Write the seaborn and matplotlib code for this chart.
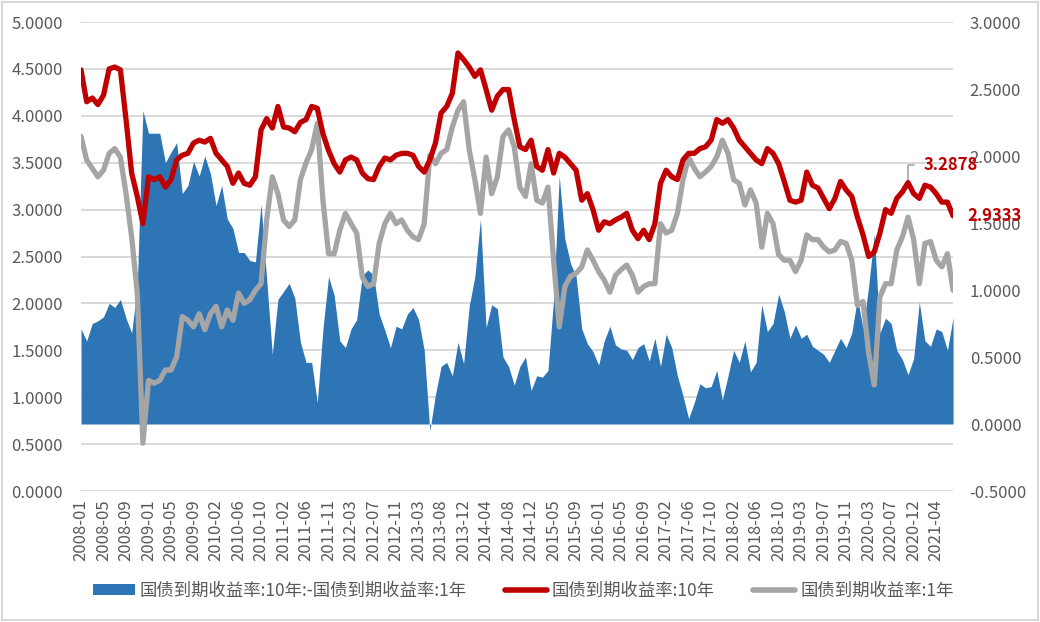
"""
国债收益率：10年、1年及期限利差（2008-01 ~ 2021-07）
"""

# === 1. IMPORT LIBRARIES ===
import numpy as np
import pandas as pd
import matplotlib
matplotlib.use("Agg")
import matplotlib.pyplot as plt
import seaborn as sns
from matplotlib.patches import Patch, Rectangle
from matplotlib.lines import Line2D
from matplotlib.ticker import FuncFormatter

# === 2. DATA (~21 trading days apart) ===
yield_10y = [
    4.49, 4.15, 4.19, 4.12, 4.22, 4.50, 4.52, 4.49, 3.96, 3.39,
    3.14, 2.85, 3.35, 3.32, 3.35, 3.24, 3.32, 3.53, 3.58, 3.60,
    3.71, 3.74, 3.72, 3.76, 3.60, 3.53, 3.46, 3.28, 3.39, 3.28,
    3.26, 3.35, 3.85, 3.97, 3.87, 4.10, 3.88, 3.87, 3.83, 3.93,
    3.96, 4.10, 4.08, 3.81, 3.63, 3.49, 3.40, 3.53, 3.56, 3.53,
    3.39, 3.33, 3.32, 3.46, 3.55, 3.53, 3.58, 3.60, 3.60, 3.58,
    3.46, 3.40, 3.53, 3.71, 4.03, 4.10, 4.24, 4.67, 4.60, 4.52,
    4.42, 4.49, 4.28, 4.06, 4.21, 4.28, 4.28, 3.96, 3.67, 3.64,
    3.74, 3.46, 3.42, 3.64, 3.39, 3.60, 3.56, 3.49, 3.42, 3.10,
    3.17, 3.00, 2.78, 2.87, 2.85, 2.89, 2.92, 2.96, 2.78, 2.69,
    2.78, 2.68, 2.85, 3.28, 3.42, 3.35, 3.32, 3.53, 3.60, 3.60,
    3.65, 3.67, 3.74, 3.96, 3.92, 3.96, 3.87, 3.74, 3.67, 3.60,
    3.53, 3.49, 3.65, 3.60, 3.49, 3.30, 3.10, 3.08, 3.10, 3.40,
    3.26, 3.23, 3.12, 3.01, 3.12, 3.30, 3.21, 3.14, 2.92, 2.73,
    2.50, 2.55, 2.75, 3.00, 2.96, 3.12, 3.19, 3.2878, 3.17, 3.12,
    3.26, 3.24, 3.17, 3.08, 3.08, 2.9333,
]

yield_1y = [
    3.78, 3.53, 3.44, 3.35, 3.42, 3.60, 3.65, 3.56, 3.17, 2.71,
    2.11, 0.51, 1.18, 1.15, 1.18, 1.29, 1.29, 1.43, 1.86, 1.82,
    1.75, 1.89, 1.72, 1.89, 1.97, 1.75, 1.93, 1.82, 2.11, 2.00,
    2.04, 2.14, 2.21, 2.89, 3.35, 3.17, 2.89, 2.82, 2.89, 3.32,
    3.50, 3.64, 3.92, 3.10, 2.53, 2.53, 2.78, 2.96, 2.85, 2.75,
    2.28, 2.18, 2.21, 2.64, 2.85, 2.96, 2.85, 2.89, 2.78, 2.71,
    2.68, 2.85, 3.58, 3.49, 3.60, 3.64, 3.88, 4.06, 4.15, 3.64,
    3.32, 2.96, 3.56, 3.17, 3.35, 3.78, 3.85, 3.67, 3.24, 3.14,
    3.49, 3.10, 3.07, 3.24, 2.46, 1.75, 2.18, 2.29, 2.32, 2.39,
    2.57, 2.46, 2.34, 2.25, 2.12, 2.30, 2.36, 2.41, 2.30, 2.12,
    2.18, 2.21, 2.21, 2.85, 2.75, 2.78, 2.96, 3.32, 3.56, 3.44,
    3.35, 3.40, 3.46, 3.56, 3.74, 3.60, 3.32, 3.28, 3.05, 3.21,
    3.07, 2.60, 2.96, 2.85, 2.52, 2.46, 2.46, 2.34, 2.46, 2.73,
    2.68, 2.68, 2.60, 2.55, 2.57, 2.66, 2.64, 2.46, 1.98, 2.02,
    1.47, 1.13, 2.07, 2.21, 2.21, 2.57, 2.71, 2.92, 2.68, 2.21,
    2.64, 2.66, 2.46, 2.39, 2.53, 2.14,
]

tick_labels = [
    "2008-01", "2008-05", "2008-09", "2009-01", "2009-05", "2009-09",
    "2010-02", "2010-06", "2010-10", "2011-02", "2011-06", "2011-11",
    "2012-03", "2012-07", "2012-11", "2013-03", "2013-08", "2013-12",
    "2014-04", "2014-08", "2014-12", "2015-05", "2015-09", "2016-01",
    "2016-05", "2016-09", "2017-02", "2017-06", "2017-10", "2018-02",
    "2018-06", "2018-10", "2019-03", "2019-07", "2019-11", "2020-03",
    "2020-07", "2020-12", "2021-04",
]
points_per_tick = 4

name_10y = "国债到期收益率:10年"
name_1y = "国债到期收益率:1年"
name_spread = "国债到期收益率:10年:-国债到期收益率:1年"

df = pd.DataFrame({"y10": yield_10y, "y1": yield_1y})
df["pos"] = np.arange(len(df))
df["spread"] = df["y10"] - df["y1"]

# === 3. STYLE ===
sns.set_theme(style="white")
plt.rcParams["font.family"] = ["Noto Sans CJK SC", "DejaVu Sans"]

BLUE = "#2e75b6"
RED = "#c00000"
GRAY = "#a5a5a5"
GRID = "#d9d9d9"
TXT = "#595959"

# === 4. PLOT ===
fig = plt.figure(figsize=(10.4, 6.22), dpi=100)
ax = fig.add_axes([0.0779, 0.2106, 0.8385, 0.754])
ax2 = ax.twinx()

# spread on the right axis (drawn underneath)
ax2.fill_between(df["pos"], 0, df["spread"], color=BLUE, lw=0, zorder=2)
ax2.set_ylim(-0.5, 3.0)
ax2.set_yticks(np.arange(-0.5, 3.01, 0.5))

# yields on the left axis (drawn on top)
sns.lineplot(data=df, x="pos", y="y10", ax=ax, color=RED, lw=3.8, zorder=4)
sns.lineplot(data=df, x="pos", y="y1", ax=ax, color=GRAY, lw=3.8, zorder=3)
ax.set_ylim(0, 5)
left_ticks = np.arange(0, 5.01, 0.5)
ax.set_yticks(left_ticks)
ax.set_zorder(ax2.get_zorder() + 1)
ax.patch.set_visible(False)

# horizontal grid at the left-axis ticks, kept behind the spread area
lo1, hi1 = ax.get_ylim()
lo2, hi2 = ax2.get_ylim()
for v in left_ticks:
    ax2.axhline(lo2 + (v - lo1) * (hi2 - lo2) / (hi1 - lo1),
                color=GRID, lw=1.4, zorder=0)

ax.set_xlim(0, len(df) - 1)
ax.set_xticks(np.arange(len(tick_labels)) * points_per_tick)
ax.set_xticklabels(tick_labels, rotation=90)
ax.set_xlabel("")
ax.set_ylabel("")

fmt = FuncFormatter(lambda v, _: f"{v:.4f}")
ax.yaxis.set_major_formatter(fmt)
ax2.yaxis.set_major_formatter(fmt)

ax.tick_params(axis="y", length=0, pad=13, labelsize=12, labelcolor=TXT)
ax.tick_params(axis="x", length=0, pad=6, labelsize=12, labelcolor=TXT)
ax2.tick_params(axis="y", length=0, pad=12, labelsize=12, labelcolor=TXT)

for a in (ax, ax2):
    for s in a.spines.values():
        s.set_visible(False)

# data labels: recent high and last value of the 10y yield
i_peak = df["y10"].iloc[-20:].idxmax()
ax.annotate(f"{df['y10'][i_peak]:.4f}", xy=(i_peak, df["y10"][i_peak]),
            xytext=(11, 13), textcoords="offset points", ha="left", va="center",
            color=RED, fontsize=12, fontweight="bold",
            arrowprops=dict(arrowstyle="-", color=GRAY, lw=1.2,
                            connectionstyle="angle,angleA=0,angleB=90,rad=0",
                            shrinkA=4, shrinkB=0))
i_last = len(df) - 1
ax.annotate(f"{df['y10'][i_last]:.4f}", xy=(i_last, df["y10"][i_last]),
            xytext=(10, 0), textcoords="offset points", ha="left", va="center",
            color=RED, fontsize=12, fontweight="bold")

# legend
handles = [
    Patch(facecolor=BLUE, edgecolor="none"),
    Line2D([], [], color=RED, lw=4),
    Line2D([], [], color=GRAY, lw=4),
]
leg = fig.legend(handles, [name_spread, name_10y, name_1y], loc="center",
                 bbox_to_anchor=(0.503, 0.05), ncol=3, frameon=False,
                 fontsize=12.5, handlelength=2.4, handleheight=0.6,
                 handletextpad=0.3, columnspacing=2.2)
for t in leg.get_texts():
    t.set_color(TXT)

# chart border
fig.patches.append(Rectangle((0.002, 0.003), 0.996, 0.994, transform=fig.transFigure,
                             fill=False, edgecolor=GRID, lw=1.5))

fig.savefig("out.png", dpi=100)
plt.close(fig)
